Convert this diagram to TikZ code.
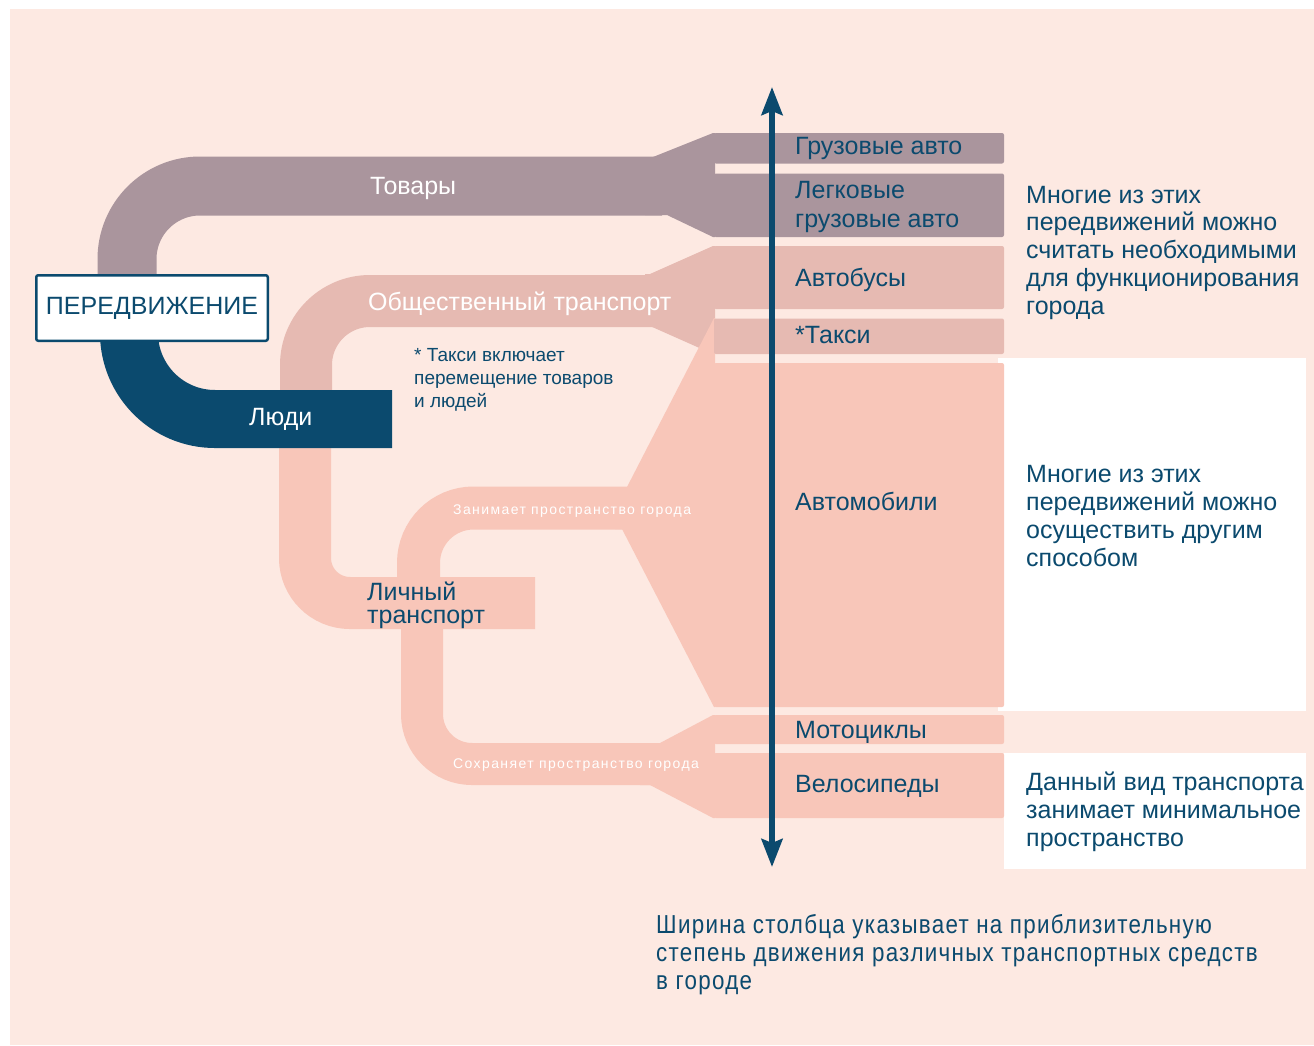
\documentclass[tikz,border=0pt]{standalone}
\usepackage{fontspec}
\setmainfont{Liberation Sans}
\newfontfamily\narrowfont[FakeStretch=0.86,LetterSpace=5]{Liberation Sans}
\newfontfamily\spacedfont[LetterSpace=10]{Liberation Sans}
\usetikzlibrary{arrows.meta, positioning}

\begin{document}
\begin{tikzpicture}[x=1pt, y=-1pt,
    lbl/.style={anchor=base west, inner sep=0pt, text=darkblue, align=left,
      font=\fontsize{25}{28}\selectfont},
    bandlbl/.style={lbl, text=white},
    smalllbl/.style={anchor=base west, inner sep=0pt, text=white,
      font=\spacedfont\fontsize{14}{16}\selectfont},
    colbox/.style={rounded corners=2pt}]
  \definecolor{bgpeach}{HTML}{FDE9E2}
  \definecolor{goodscol}{HTML}{AA959D}
  \definecolor{publiccol}{HTML}{E6BAB2}
  \definecolor{personalcol}{HTML}{F8C6B9}
  \definecolor{darkblue}{HTML}{0B4A6E}

  \useasboundingbox (0,0) rectangle (1314,1045);
  \fill[white] (0,0) rectangle (1314,1045);
  \fill[bgpeach] (10,9) rectangle (1314,1045);

  % white boxes on the right
  \fill[white] (998,358) rectangle (1306,711);
  \fill[white] (1004,753) rectangle (1306,869);

  % bands
  \draw[goodscol, line width=59pt, rounded corners=73pt] (127,290) -- (127,186) -- (662,186);
  \draw[publiccol, line width=52pt, rounded corners=64pt] (306,395) -- (306,301) -- (655,301);
  \draw[personalcol, line width=52pt, rounded corners=45pt] (305,440) -- (305,603) -- (535,603);
  \draw[personalcol, line width=43pt, rounded corners=55pt] (418.5,590) -- (418.5,508) -- (630,508);
  \draw[personalcol, line width=42pt, rounded corners=50pt] (422,615) -- (422,764) -- (665,764);
  \draw[darkblue, line width=58pt, rounded corners=86pt] (129,340) -- (129,419) -- (392,419);

  % funnels into the column
  \fill[goodscol] (645,157) -- (653,157) -- (713,133) -- (715,133) -- (715,237) -- (713,237) -- (667,215) -- (645,215) -- cycle;
  \fill[publiccol] (645,274) -- (650,274) -- (713,246) -- (715,246) -- (715,354) -- (713,354) -- (650,326) -- (645,326) -- cycle;
  \fill[personalcol] (615,487) -- (627,487) -- (714,318) -- (715,318) -- (715,707) -- (714,707) -- (622,529) -- (615,529) -- cycle;
  \fill[personalcol] (650,743) -- (660,743) -- (713,715) -- (715,715) -- (715,818) -- (713,818) -- (650,785) -- (640,785) -- cycle;

  % column
  \fill[goodscol, colbox] (714,133) rectangle (1004,163.5);
  \fill[goodscol, colbox] (714,173.5) rectangle (1004,237);
  \fill[publiccol, colbox] (714,246) rectangle (1004,309);
  \fill[publiccol, colbox] (714,318.5) rectangle (1004,354);
  \fill[personalcol, colbox] (714,363) rectangle (1004,707);
  \fill[personalcol, colbox] (714,715) rectangle (1004,744);
  \fill[personalcol, colbox] (714,753) rectangle (1004,818);

  \draw[darkblue, line width=5.5pt, {Stealth[length=28pt,width=21pt,inset=4pt]}-{Stealth[length=28pt,width=21pt,inset=4pt]}] (772,87) -- (772,867);

  % main box
  \node[draw=darkblue, line width=2.5pt, fill=white, rounded corners=2pt, minimum width=231.5pt,
    minimum height=65.5pt, inner sep=0pt, text=darkblue, font=\fontsize{25}{28}\selectfont] (move) at (152,308) {ПЕРЕДВИЖЕНИЕ};

  % band labels
  \node[bandlbl] (goods) at (370,194) {Товары};
  \node[bandlbl] (public) at (368,310) {Общественный транспорт};
  \node[bandlbl] (people) at (249,425) {Люди};
  \node[lbl, font=\fontsize{25}{23}\selectfont] (personal) at (367,623) {Личный\\транспорт};
  \node[smalllbl] (takes) at (453,514) {Занимает пространство города};
  \node[smalllbl] (saves) at (453,768) {Сохраняет пространство города};
  \node[lbl, font=\fontsize{19}{22.7}\selectfont] (taxinote) at (414,407) {* Такси включает\\перемещение товаров\\и людей};

  % column labels
  \node[lbl] (trucks) at (795,154) {Грузовые авто};
  \node[lbl, font=\fontsize{25}{29}\selectfont] (vans) at (795,227) {Легковые\\грузовые авто};
  \node[lbl] (buses) at (795,286) {Автобусы};
  \node[lbl] (taxi) at (795,343) {*Такси};
  \node[lbl] (cars) at (795,510) {Автомобили};
  \node[lbl] (motos) at (795,738) {Мотоциклы};
  \node[lbl] (bikes) at (795,792) {Велосипеды};

  % notes
  \node[lbl, font=\fontsize{25}{27.7}\selectfont] (needed) at (1026,314) {Многие из этих\\передвижений можно\\считать необходимыми\\для функционирования\\города};
  \node[lbl] (other) at (1026,566) {Многие из этих\\передвижений можно\\осуществить другим\\способом};
  \node[lbl] (minimal) at (1026,846) {Данный вид транспорта\\занимает минимальное\\пространство};
  \node[lbl, font=\narrowfont\fontsize{26}{28}\selectfont] (widthnote) at (656,989) {Ширина столбца указывает на приблизительную\\степень движения различных транспортных средств\\в городе};
\end{tikzpicture}
\end{document}
